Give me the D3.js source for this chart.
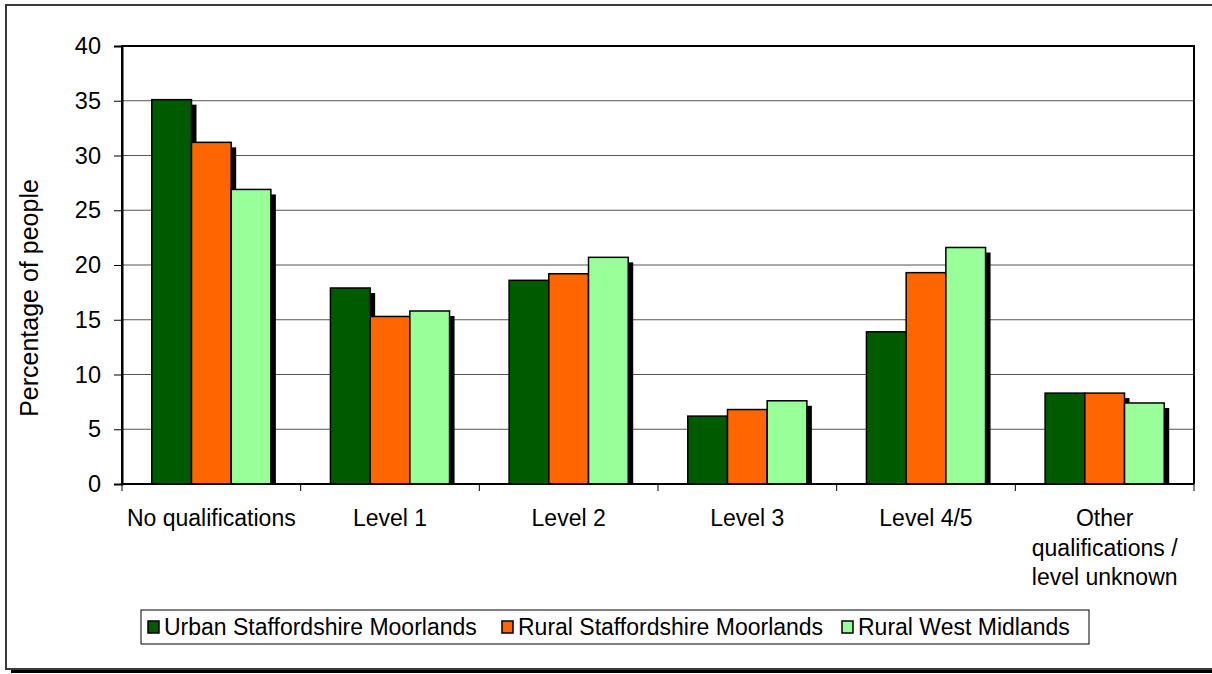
<!DOCTYPE html>
<html>
<head>
<meta charset="utf-8">
<script src="https://cdn.jsdelivr.net/npm/d3@7"></script>
<style>
  body { margin: 0; background: #fff; }
  text { font-family: "Liberation Sans", Arial, sans-serif; fill: #000; }
</style>
</head>
<body>
<div id="chart"></div>
<script>
// chart data
var categories = ["No qualifications", "Level 1", "Level 2", "Level 3", "Level 4/5", "Other qualifications / level unknown"];
var seriesNames = ["Urban Staffordshire Moorlands", "Rural Staffordshire Moorlands", "Rural West Midlands"];
var urbanSM = [35.1, 17.9, 18.6, 6.2, 13.9, 8.3];
var ruralSM = [31.2, 15.3, 19.2, 6.8, 19.3, 8.3];
var ruralWM = [26.9, 15.8, 20.7, 7.6, 21.6, 7.4];
var yTicks = [0, 5, 10, 15, 20, 25, 30, 35, 40];
var seriesColors = ["#005A00", "#FF6600", "#99FF99"];

var seriesValues = [urbanSM, ruralSM, ruralWM];

var width = 1212, height = 674;
var margin = {left: 122, right: 18, top: 46, bottom: 190};

var svg = d3.select("#chart").append("svg")
  .attr("width", width)
  .attr("height", height);

// chart area frame with shadow
svg.append("rect")
  .attr("x", 11).attr("y", 10)
  .attr("width", 1220).attr("height", 663)
  .attr("fill", "#000");
svg.append("rect")
  .attr("x", 6).attr("y", 5)
  .attr("width", 1220).attr("height", 664)
  .attr("fill", "#fff")
  .attr("stroke", "#3a3a3a")
  .attr("stroke-width", 2);

var x0 = d3.scaleBand()
  .domain(categories)
  .range([margin.left, width - margin.right])
  .paddingInner(0)
  .paddingOuter(0);

var bw = x0.bandwidth();
var barW = bw / 4.5;   // gap width 150%

var x1 = d3.scaleBand()
  .domain(seriesNames)
  .range([barW * 0.75, barW * 3.75]);

var y = d3.scaleLinear()
  .domain([0, 40])
  .range([height - margin.bottom, margin.top]);

// gridlines
svg.append("g")
  .selectAll("line")
  .data(yTicks.filter(function (d) { return d > 0 && d < 40; }))
  .enter()
  .append("line")
  .attr("x1", margin.left).attr("x2", width - margin.right)
  .attr("y1", function (d) { return y(d); })
  .attr("y2", function (d) { return y(d); })
  .attr("stroke", "#555")
  .attr("stroke-width", 1.2);

// plot frame (top, left, right)
svg.append("path")
  .attr("d", "M" + margin.left + "," + y(0) + "V" + y(40) + "H" + (width - margin.right) + "V" + y(0))
  .attr("fill", "none")
  .attr("stroke", "#000")
  .attr("stroke-width", 2);

var groups = svg.append("g")
  .selectAll("g")
  .data(categories)
  .enter()
  .append("g")
  .attr("transform", function (d) { return "translate(" + x0(d) + ",0)"; });

var barData = function (d, i) {
  return seriesNames.map(function (s, j) {
    return {series: s, value: seriesValues[j][i], color: seriesColors[j]};
  });
};

// shadows
groups.selectAll("rect.shadow")
  .data(barData)
  .enter()
  .append("rect")
  .attr("class", "shadow")
  .attr("x", function (d) { return x1(d.series) + 5; })
  .attr("y", function (d) { return y(d.value) + 5; })
  .attr("width", barW)
  .attr("height", function (d) { return Math.max(0, y(0) - y(d.value) - 5); })
  .attr("fill", "#000");

// bars
groups.selectAll("rect.bar")
  .data(barData)
  .enter()
  .append("rect")
  .attr("class", "bar")
  .attr("x", function (d) { return x1(d.series); })
  .attr("y", function (d) { return y(d.value); })
  .attr("width", barW)
  .attr("height", function (d) { return y(0) - y(d.value); })
  .attr("fill", function (d) { return d.color; })
  .attr("stroke", "#000")
  .attr("stroke-width", 1.5);

// y axis
var yAxis = svg.append("g")
  .attr("transform", "translate(" + margin.left + ",0)")
  .call(d3.axisLeft(y).tickValues(yTicks).tickSize(8).tickPadding(13));
yAxis.select(".domain").attr("stroke", "#000").attr("stroke-width", 2);
yAxis.selectAll(".tick line").attr("stroke", "#000").attr("stroke-width", 1);
yAxis.selectAll(".tick text")
  .style("font-family", "'Liberation Sans', Arial, sans-serif")
  .style("font-size", "23.5px")
  .attr("fill", "#000");

// x axis
var xAxis = svg.append("g")
  .attr("transform", "translate(0," + y(0) + ")");
xAxis.append("line")
  .attr("x1", margin.left).attr("x2", width - margin.right)
  .attr("stroke", "#000").attr("stroke-width", 2);
xAxis.selectAll("line.tick")
  .data(categories.concat([null]))
  .enter()
  .append("line")
  .attr("class", "tick")
  .attr("x1", function (d) { return d === null ? width - margin.right : x0(d); })
  .attr("x2", function (d) { return d === null ? width - margin.right : x0(d); })
  .attr("y1", 0).attr("y2", 7)
  .attr("stroke", "#000").attr("stroke-width", 1);

var wrapLines = {
  "Other qualifications / level unknown": ["Other", "qualifications /", "level unknown"]
};
xAxis.selectAll("text.cat")
  .data(categories)
  .enter()
  .append("text")
  .attr("class", "cat")
  .attr("text-anchor", "middle")
  .style("font-size", "23px")
  .each(function (d) {
    var lines = wrapLines[d] || [d];
    var t = d3.select(this);
    lines.forEach(function (l, k) {
      t.append("tspan")
        .attr("x", x0(d) + bw / 2)
        .attr("y", 42 + k * 29.5)
        .text(l);
    });
  });

// y axis title
svg.append("text")
  .attr("transform", "translate(38,298) rotate(-90)")
  .attr("text-anchor", "middle")
  .style("font-size", "25px")
  .text("Percentage of people");

// legend
var legend = svg.append("g");
legend.append("rect")
  .attr("x", 141).attr("y", 610)
  .attr("width", 948).attr("height", 34)
  .attr("fill", "#fff")
  .attr("stroke", "#000")
  .attr("stroke-width", 1);

var legendOffsets = [148, 502, 842];
var items = legend.selectAll("g.item")
  .data(seriesNames)
  .enter()
  .append("g")
  .attr("class", "item")
  .attr("transform", function (d, i) { return "translate(" + legendOffsets[i] + ",621)"; });
items.append("rect")
  .attr("width", 11).attr("height", 12)
  .attr("fill", function (d, i) { return seriesColors[i]; })
  .attr("stroke", "#000")
  .attr("stroke-width", 1.5);
items.append("text")
  .attr("x", 16).attr("y", 14)
  .style("font-size", "23px")
  .text(function (d) { return d; });
</script>
</body>
</html>
